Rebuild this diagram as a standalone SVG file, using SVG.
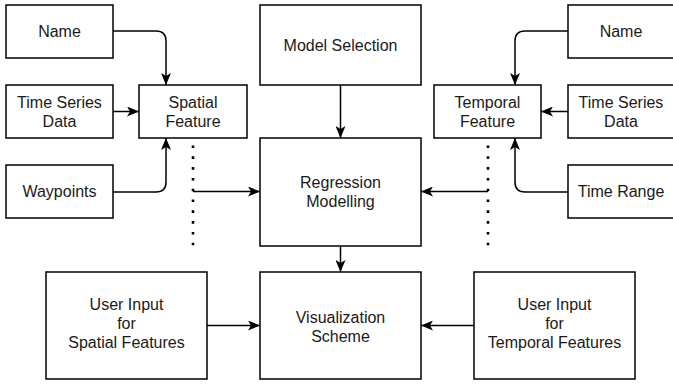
<svg xmlns="http://www.w3.org/2000/svg" width="673" height="385" viewBox="0 0 673 385">
<style>
.box{fill:#fff;stroke:#000;stroke-width:1.5}
.t{font-family:"Liberation Sans",Arial,sans-serif;font-size:16px;fill:#1a1a1a;text-anchor:middle}
.c{fill:none;stroke:#000;stroke-width:1.5}
.d{fill:none;stroke:#000;stroke-width:2.6;stroke-dasharray:2.6 8.2}
</style>
<defs>
<marker id="a" viewBox="0 0 12 10" refX="12" refY="5" markerWidth="12" markerHeight="10" markerUnits="userSpaceOnUse" orient="auto">
<path d="M0,0 L12,5 L0,10 L3,5 Z" fill="#000"/>
</marker>
</defs>
<rect width="673" height="385" fill="#fff"/>
<g id="nameL"><rect class="box" x="6" y="5" width="107" height="53"/><text class="t" x="59.5" y="37">Name</text></g>
<g id="tsdL"><rect class="box" x="6" y="85" width="107" height="53"/><text class="t" x="59.5" y="108">Time Series</text><text class="t" x="59.5" y="127">Data</text></g>
<g id="waypoints"><rect class="box" x="6" y="165" width="107" height="53"/><text class="t" x="59.5" y="197">Waypoints</text></g>
<g id="spatial"><rect class="box" x="139" y="85" width="108" height="53"/><text class="t" x="193" y="108">Spatial</text><text class="t" x="193" y="127">Feature</text></g>
<g id="model"><rect class="box" x="260" y="5" width="161" height="80"/><text class="t" x="340.5" y="51">Model Selection</text></g>
<g id="regression"><rect class="box" x="260" y="138" width="161" height="108"/><text class="t" x="340.5" y="188">Regression</text><text class="t" x="340.5" y="207">Modelling</text></g>
<g id="temporal"><rect class="box" x="434" y="85" width="107" height="53"/><text class="t" x="487.5" y="108">Temporal</text><text class="t" x="487.5" y="127">Feature</text></g>
<g id="nameR"><rect class="box" x="568" y="5" width="110" height="53"/><text class="t" x="621" y="37">Name</text></g>
<g id="tsdR"><rect class="box" x="568" y="85" width="110" height="53"/><text class="t" x="621" y="108">Time Series</text><text class="t" x="621" y="127">Data</text></g>
<g id="timeRange"><rect class="box" x="568" y="165" width="110" height="53"/><text class="t" x="621" y="197">Time Range</text></g>
<g id="userSpatial"><rect class="box" x="46" y="272" width="161" height="107"/><text class="t" x="126.5" y="310">User Input</text><text class="t" x="126.5" y="329">for</text><text class="t" x="126.5" y="348">Spatial Features</text></g>
<g id="visual"><rect class="box" x="260" y="272" width="161" height="107"/><text class="t" x="340.5" y="323">Visualization</text><text class="t" x="340.5" y="342">Scheme</text></g>
<g id="userTemporal"><rect class="box" x="474" y="272" width="161" height="107"/><text class="t" x="554.5" y="310">User Input</text><text class="t" x="554.5" y="329">for</text><text class="t" x="554.5" y="348">Temporal Features</text></g>
<g id="connectors">
<path class="c" d="M113,31 H156 Q166,31 166,41 V85" marker-end="url(#a)"/>
<path class="c" d="M113,111.5 H139" marker-end="url(#a)"/>
<path class="c" d="M113,192 H156 Q166,192 166,182 V138" marker-end="url(#a)"/>
<path class="c" d="M568,31 H525 Q515,31 515,41 V85" marker-end="url(#a)"/>
<path class="c" d="M568,111.5 H541" marker-end="url(#a)"/>
<path class="c" d="M568,192 H525 Q515,192 515,182 V138" marker-end="url(#a)"/>
<path class="c" d="M340.5,85 V138" marker-end="url(#a)"/>
<path class="c" d="M340.5,246 V272" marker-end="url(#a)"/>
<path class="c" d="M193,191.5 H260" marker-end="url(#a)"/>
<path class="c" d="M488,191.5 H421" marker-end="url(#a)"/>
<path class="c" d="M207,325.5 H260" marker-end="url(#a)"/>
<path class="c" d="M474,325.5 H421" marker-end="url(#a)"/>
<line class="d" x1="193" y1="145.5" x2="193" y2="247"/>
<line class="d" x1="488" y1="145.5" x2="488" y2="247"/>
</g>
</svg>
